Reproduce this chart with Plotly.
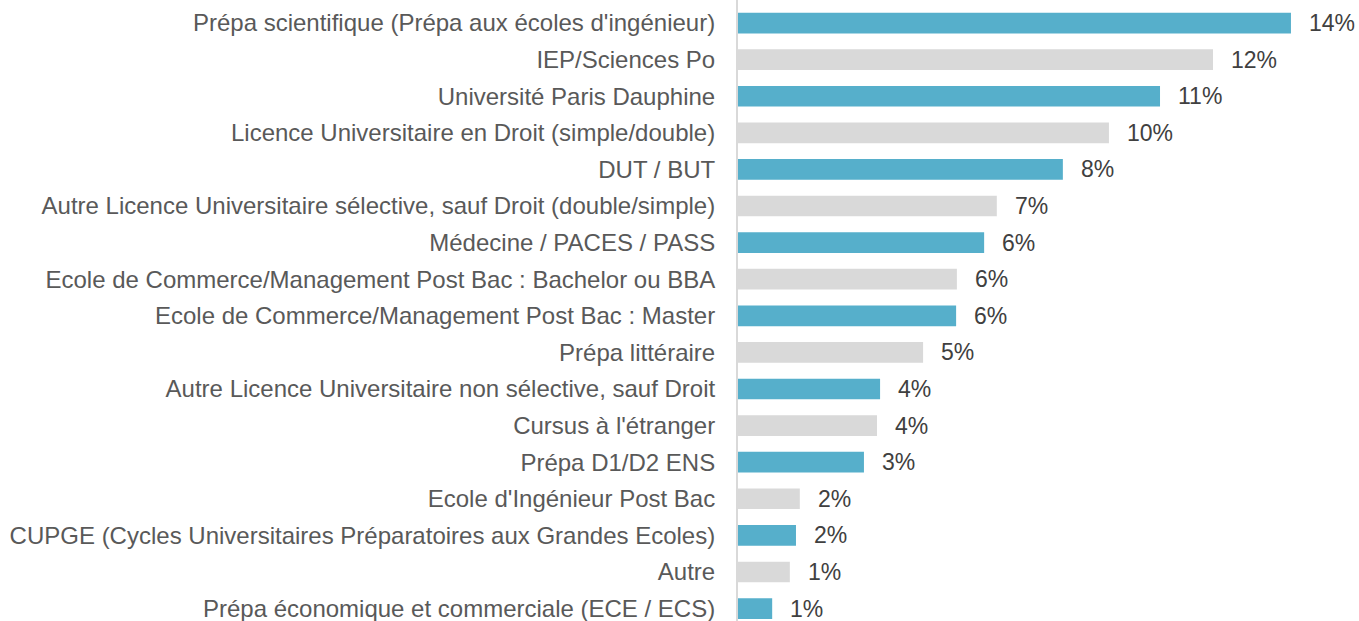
import plotly.graph_objects as go

categories = [
    "Prépa scientifique (Prépa aux écoles d'ingénieur)",
    "IEP/Sciences Po",
    "Université Paris Dauphine",
    "Licence Universitaire en Droit (simple/double)",
    "DUT / BUT",
    "Autre Licence Universitaire sélective, sauf Droit (double/simple)",
    "Médecine / PACES / PASS",
    "Ecole de Commerce/Management Post Bac : Bachelor ou BBA",
    "Ecole de Commerce/Management Post Bac : Master",
    "Prépa littéraire",
    "Autre Licence Universitaire non sélective, sauf Droit",
    "Cursus à l'étranger",
    "Prépa D1/D2 ENS",
    "Ecole d'Ingénieur Post Bac",
    "CUPGE (Cycles Universitaires Préparatoires aux Grandes Ecoles)",
    "Autre",
    "Prépa économique et commerciale (ECE / ECS)",
]
values = [14.40, 12.37, 10.99, 9.66, 8.46, 6.74, 6.41, 5.70, 5.68, 4.82,
          3.70, 3.62, 3.28, 1.61, 1.51, 1.35, 0.89]
value_labels = ["14%", "12%", "11%", "10%", "8%", "7%", "6%", "6%", "6%", "5%",
                "4%", "4%", "3%", "2%", "2%", "1%", "1%"]

BLUE = "#56AFCB"
GREY = "#D9D9D9"
colors = [BLUE if i % 2 == 0 else GREY for i in range(len(categories))]

fig = go.Figure()
fig.add_trace(go.Bar(
    x=values, y=categories, orientation="h",
    marker=dict(color=colors, line=dict(width=0)),
    width=0.565,
    hoverinfo="skip",
))

for cat, v, lab in zip(categories, values, value_labels):
    fig.add_annotation(x=v, y=cat, text=lab, showarrow=False,
                       xanchor="left", xshift=16,
                       font=dict(family="Liberation Sans, Arial", size=23, color="#404040"))

fig.update_layout(
    width=1359, height=621,
    margin=dict(l=738, r=0, t=0, b=0),
    paper_bgcolor="white", plot_bgcolor="white",
    showlegend=False,
    font=dict(family="Liberation Sans, Arial", size=24, color="#595959"),
)
fig.update_xaxes(range=[0, 621 / 38.4], visible=False, showgrid=False, zeroline=False)
fig.update_yaxes(
    range=[16.34, -0.63],
    showline=True, linecolor="#D9D9D9", linewidth=2,
    showgrid=False, zeroline=False, ticks="",
    ticklabelstandoff=16,
    tickfont=dict(family="Liberation Sans, Arial", size=24, color="#595959"),
)

fig.write_html("out.html", config={"displayModeBar": False},
               post_script="document.body.style.margin='0';")
